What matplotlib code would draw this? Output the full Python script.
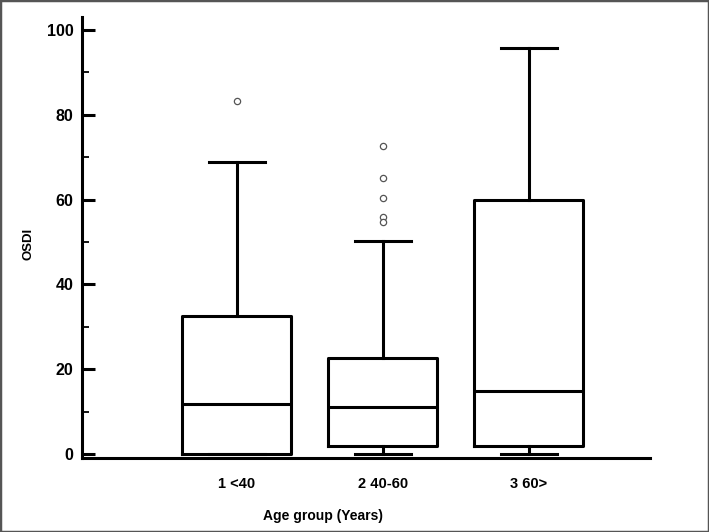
import matplotlib
matplotlib.use("Agg")
import matplotlib.pyplot as plt
from matplotlib.patches import Rectangle
from matplotlib.ticker import MultipleLocator

categories = ["1 <40", "2 40-60", "3 60>"]
whislo = [0.0, 0.0, 0.0]
q1 = [0.0, 2.0, 2.0]
med = [11.8, 11.0, 15.0]
q3 = [32.5, 22.6, 60.0]
whishi = [68.9, 50.2, 95.7]
fliers = [[83.3], [72.5, 65.0, 60.3, 55.8, 54.8], []]

plt.rcParams['font.family'] = ['Liberation Sans', 'DejaVu Sans']
fig = plt.figure(figsize=(7.09, 5.32), dpi=100)
ax = fig.add_axes([82/709, 1-458/532, (650-82)/709, (458-17)/532])

stats = []
for i, c in enumerate(categories):
    stats.append(dict(label=c, whislo=whislo[i], q1=q1[i], med=med[i],
                      q3=q3[i], whishi=whishi[i], fliers=fliers[i]))

lw = 2.2
ax.bxp(stats, positions=[1, 2, 3], widths=0.745, showfliers=True,
       boxprops=dict(color='black', linewidth=lw),
       medianprops=dict(color='black', linewidth=lw),
       whiskerprops=dict(color='black', linewidth=lw),
       capprops=dict(color='black', linewidth=lw),
       capwidths=0.38,
       flierprops=dict(marker='o', markersize=4.5, markerfacecolor='white',
                       markeredgecolor='#555555', markeredgewidth=0.9))

ax.set_xlim(-0.06, 3.83)
ax.set_ylim(-0.9, 103)
ax.spines['top'].set_visible(False)
ax.spines['right'].set_visible(False)
for s in ['left', 'bottom']:
    ax.spines[s].set_linewidth(lw)
ax.yaxis.set_major_locator(MultipleLocator(20))
ax.yaxis.set_minor_locator(MultipleLocator(10))
ax.tick_params(axis='y', which='major', direction='in', length=9, width=lw,
               labelsize=11.5, pad=6)
ax.tick_params(axis='y', which='minor', direction='in', length=5, width=1.3)
ax.tick_params(axis='x', length=0, labelsize=10.5, pad=14)
for t in ax.get_yticklabels() + ax.get_xticklabels():
    t.set_fontweight('bold')
ax.set_xticks([1, 2, 3])
ax.set_xticklabels(categories)
ax.set_ylabel("OSDI", fontsize=9.5, fontweight='bold')
ax.yaxis.set_label_coords((34 - 82) / (650 - 82), (458 - 244) / 441)
ax.set_xlabel("Age group (Years)", fontsize=10, fontweight='bold')
ax.xaxis.set_label_coords((323 - 82) / (650 - 82), -51 / 441)

fig.patches.append(Rectangle((0, 0), 1, 1, transform=fig.transFigure,
                             fill=False, edgecolor='#555555', linewidth=2.5))
fig.savefig("out.png", dpi=100)
